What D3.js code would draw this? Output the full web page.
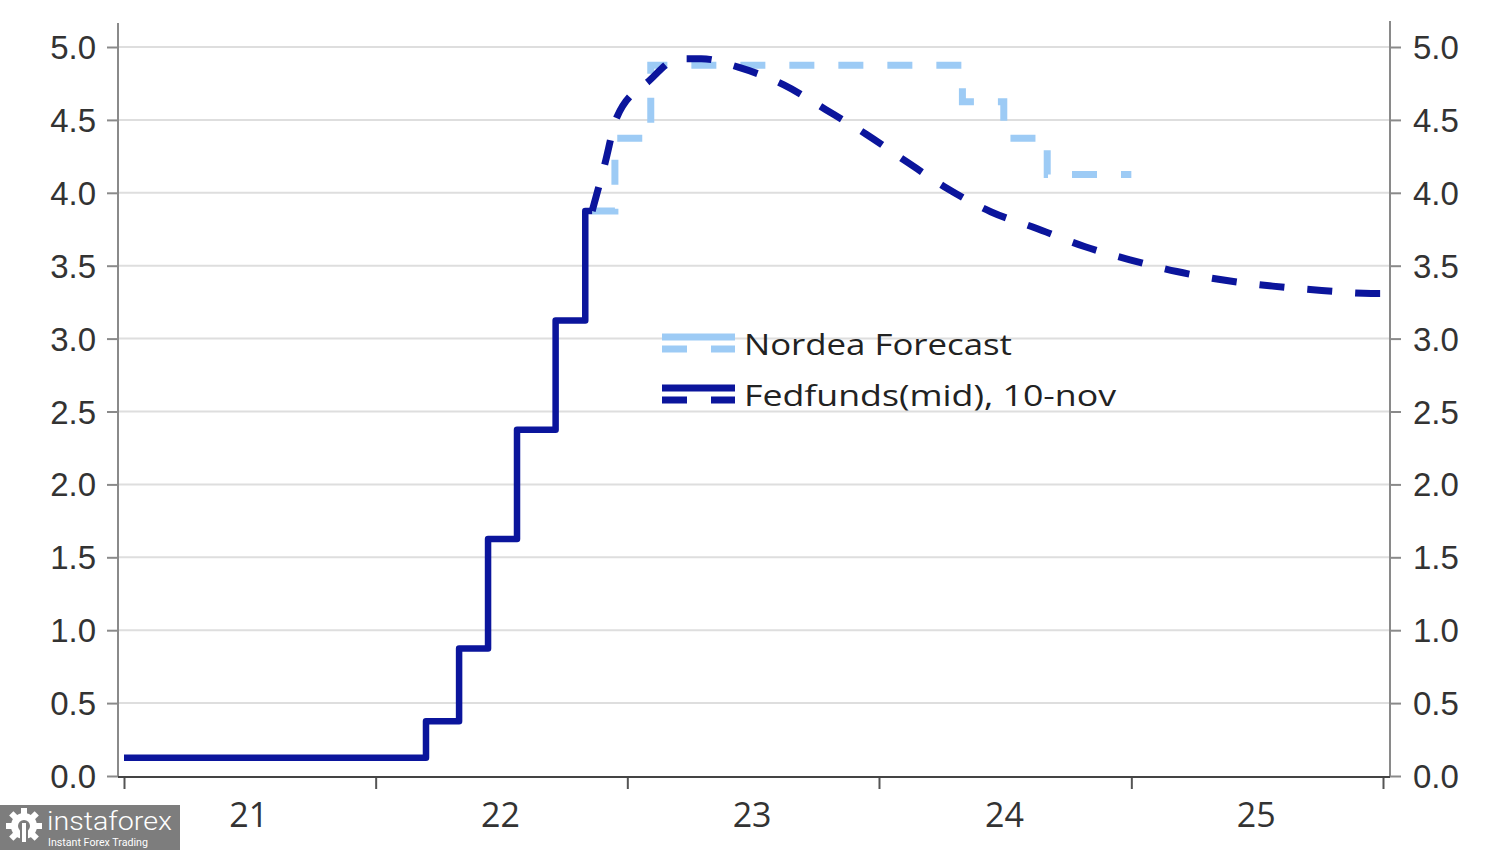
<!DOCTYPE html>
<html>
<head>
<meta charset="utf-8">
<script src="https://cdn.jsdelivr.net/npm/d3@7"></script>
<style>
  html, body { margin: 0; padding: 0; background: #fff; }
  svg { display: block; font-family: "Open Sans", "Noto Sans", sans-serif; }
</style>
</head>
<body>
<svg id="chart" width="1500" height="850"></svg>
<script>
// ---------------- data ----------------
// Fed funds (mid) – realised path (step after each hike)
const fedHistDates  = ["2021-01-01","2022-03-15","2022-05-02","2022-06-13","2022-07-25","2022-09-19","2022-11-01","2022-11-11"];
const fedHistValues = [0.125, 0.375, 0.875, 1.625, 2.375, 3.125, 3.875, 3.875];

// Fed funds (mid) – market-implied path, 10-nov
const fedFwdDates  = ["2022-11-11","2022-11-29","2022-12-17","2023-02-02","2023-03-17","2023-04-18","2023-06-12","2023-08-16","2023-10-16","2023-12-14","2024-02-11","2024-04-09","2024-06-11","2024-08-14","2024-10-26","2024-12-30","2025-03-08","2025-05-17","2025-07-25","2025-10-04","2025-12-15","2026-01-01"];
const fedFwdValues = [3.875, 4.19, 4.52, 4.77, 4.92, 4.92, 4.86, 4.74, 4.57, 4.40, 4.21, 4.03, 3.87, 3.76, 3.63, 3.54, 3.46, 3.40, 3.36, 3.33, 3.31, 3.31];

// Nordea forecast (step after)
const nordeaDates  = ["2022-11-11","2022-12-14","2023-02-04","2024-05-01","2024-06-30","2024-09-01","2025-01-01"];
const nordeaValues = [3.875, 4.375, 4.875, 4.625, 4.375, 4.125, 4.125];

const yTicks = [0, 0.5, 1, 1.5, 2, 2.5, 3, 3.5, 4, 4.5, 5];
const xTickDates = ["2021-01-01","2022-01-01","2023-01-01","2024-01-01","2025-01-01","2026-01-01"];
const xLabelDates = ["2021-07-01","2022-07-01","2023-07-01","2024-07-01","2025-07-01"];
const xLabels = ["21","22","23","24","25"];

const legendLabels = ["Nordea Forecast", "Fedfunds(mid), 10-nov"];

// ---------------- styles ----------------
const DARK = "#0b159c";
const LIGHT = "#9dcbf5";
const GRID = "#dedede";
const AXIS = "#8a8a8a";
const TEXT = "#333333";

const parse = d3.timeParse("%Y-%m-%d");
const svg = d3.select("#chart");

const plotLeft = 118, plotRight = 1390, plotTop = 23, plotBottom = 776;

const x = d3.scaleTime()
  .domain([parse("2021-01-01"), parse("2026-01-01")])
  .range([124, 1383]);
const y = d3.scaleLinear().domain([0, 5]).range([776, 47]);

// gridlines
svg.append("g").selectAll("line").data(yTicks.filter(d => d > 0)).join("line")
  .attr("x1", plotLeft).attr("x2", plotRight)
  .attr("y1", d => y(d)).attr("y2", d => y(d))
  .attr("stroke", GRID).attr("stroke-width", 2);

// left axis
const leftAxis = d3.axisLeft(y).tickValues(yTicks).tickFormat(d3.format(".1f")).tickSize(11).tickPadding(11);
const gL = svg.append("g").attr("transform", `translate(${plotLeft},0)`).call(leftAxis);
gL.select(".domain").remove();
gL.selectAll(".tick line").attr("stroke", AXIS).attr("stroke-width", 2);
gL.selectAll(".tick text").attr("fill", TEXT).style("font-size", "33px").attr("dy", "0.35em");
svg.append("line").attr("x1", plotLeft).attr("x2", plotLeft).attr("y1", plotTop).attr("y2", plotBottom + 1)
  .attr("stroke", AXIS).attr("stroke-width", 2);

// right axis
const rightAxis = d3.axisRight(y).tickValues(yTicks).tickFormat(d3.format(".1f")).tickSize(11).tickPadding(12);
const gR = svg.append("g").attr("transform", `translate(${plotRight},0)`).call(rightAxis);
gR.select(".domain").remove();
gR.selectAll(".tick line").attr("stroke", AXIS).attr("stroke-width", 2);
gR.selectAll(".tick text").attr("fill", TEXT).style("font-size", "33px").attr("dy", "0.35em");
svg.append("line").attr("x1", plotRight).attr("x2", plotRight).attr("y1", plotTop - 2).attr("y2", plotBottom + 1)
  .attr("stroke", AXIS).attr("stroke-width", 2);

// bottom axis
const bottomAxis = d3.axisBottom(x).tickValues(xTickDates.map(parse)).tickFormat("").tickSize(12);
const gB = svg.append("g").attr("transform", `translate(0,${plotBottom + 1})`).call(bottomAxis);
gB.select(".domain").remove();
gB.selectAll(".tick line").attr("stroke", "#555").attr("stroke-width", 2);
svg.append("line").attr("x1", plotLeft).attr("x2", plotRight).attr("y1", plotBottom + 1).attr("y2", plotBottom + 1)
  .attr("stroke", "#444").attr("stroke-width", 2);
svg.append("g").selectAll("text").data(xLabelDates).join("text")
  .attr("x", d => x(parse(d))).attr("y", 827)
  .attr("text-anchor", "middle").attr("fill", TEXT).style("font-size", "34px")
  .text((d, i) => xLabels[i]);

// series
const stepLine = d3.line().x(d => x(d[0])).y(d => y(d[1])).curve(d3.curveStepAfter);
const smoothLine = d3.line().x(d => x(d[0])).y(d => y(d[1])).curve(d3.curveMonotoneX);

const nordea = nordeaDates.map((d, i) => [parse(d), nordeaValues[i]]);
const fedHist = fedHistDates.map((d, i) => [parse(d), fedHistValues[i]]);
const fedFwd = fedFwdDates.map((d, i) => [parse(d), fedFwdValues[i]]);

svg.append("path").datum(nordea).attr("d", stepLine)
  .attr("fill", "none").attr("stroke", LIGHT).attr("stroke-width", 7)
  .attr("stroke-dasharray", "25,24");

svg.append("path").datum(fedFwd).attr("d", smoothLine)
  .attr("fill", "none").attr("stroke", DARK).attr("stroke-width", 7)
  .attr("stroke-dasharray", "25,23");

svg.append("path").datum(fedHist).attr("d", stepLine)
  .attr("fill", "none").attr("stroke", DARK).attr("stroke-width", 6.5)
  .attr("stroke-linejoin", "round");

// legend
const legend = svg.append("g");
const legendColors = [LIGHT, DARK];
const legendY = [337, 388];
const legendWidths = [268, 372];
legendLabels.forEach((lab, i) => {
  const g = legend.append("g").attr("transform", `translate(0,${legendY[i]})`);
  g.append("line").attr("x1", 662).attr("x2", 735).attr("y1", 0).attr("y2", 0)
    .attr("stroke", legendColors[i]).attr("stroke-width", 7);
  g.append("line").attr("x1", 662).attr("x2", 735).attr("y1", 12).attr("y2", 12)
    .attr("stroke", legendColors[i]).attr("stroke-width", 7).attr("stroke-dasharray", "25,24");
  g.append("text").attr("x", 744).attr("y", 18).attr("fill", "#222")
    .style("font-size", "30px")
    .attr("textLength", legendWidths[i]).attr("lengthAdjust", "spacingAndGlyphs")
    .text(lab);
});

// watermark
const wm = svg.append("g");
wm.append("rect").attr("x", 0).attr("y", 805).attr("width", 180).attr("height", 45).attr("fill", "#7d7d7d");
const gear = wm.append("g").attr("transform", "translate(24,826)").attr("fill", "#fff");
d3.range(8).forEach(k => {
  gear.append("rect").attr("x", -3).attr("y", -18).attr("width", 6).attr("height", 8)
    .attr("transform", `rotate(${k * 45})`);
});
gear.append("circle").attr("r", 13);
gear.append("circle").attr("r", 6).attr("fill", "#7d7d7d");
gear.append("rect").attr("x", -4).attr("y", -2).attr("width", 8).attr("height", 20).attr("fill", "#7d7d7d");
gear.append("rect").attr("x", -2).attr("y", -3).attr("width", 4).attr("height", 19).attr("fill", "#fff");
wm.append("text").attr("x", 47).attr("y", 830).attr("fill", "#fff").style("font-size", "25px")
  .style("font-family", "Roboto, sans-serif").style("font-weight", 300)
  .attr("textLength", 125).attr("lengthAdjust", "spacingAndGlyphs").text("instaforex");
wm.append("text").attr("x", 48).attr("y", 846).attr("fill", "#fff").style("font-size", "11px")
  .style("font-family", "Roboto, sans-serif")
  .attr("textLength", 100).attr("lengthAdjust", "spacingAndGlyphs").text("Instant Forex Trading");
</script>
</body>
</html>
